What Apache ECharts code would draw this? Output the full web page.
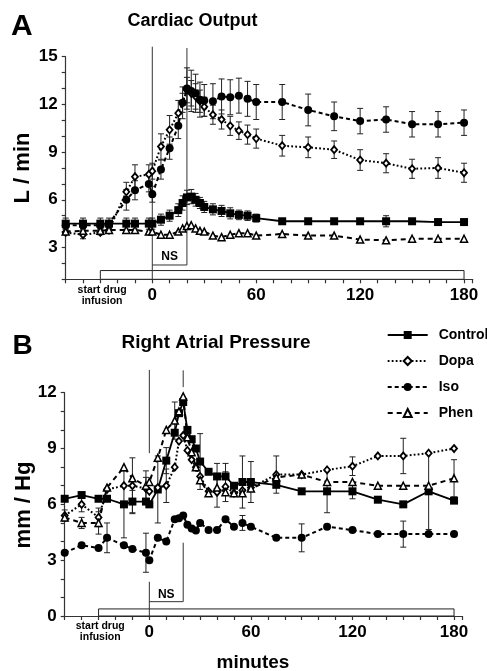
<!DOCTYPE html>
<html><head><meta charset="utf-8">
<script src="https://cdn.jsdelivr.net/npm/echarts@6/dist/echarts.min.js"></script>
<style>html,body{margin:0;padding:0;background:#fff}#c{width:487px;height:671px}</style>
</head><body><div id="c"></div>
<script>
// ---------- data ----------
const times = [-50,-40,-30,-25,-15,-10,-2,0,5,10,15,17.5,20,22.5,25,27.5,30,35,40,45,50,55,60,75,90,105,120,135,150,165,180];
const xTickLabels = [0, 60, 120, 180];
const seriesNames = ['Control', 'Dopa', 'Iso', 'Phen'];

// Panel A: Cardiac Output (L/min)
const coControl   = [4.5,4.5,4.5,4.5,4.5,4.5,4.5,4.5,4.75,5.0,5.35,5.8,6.15,6.2,6.0,5.8,5.55,5.4,5.3,5.15,5.05,5.0,4.85,4.65,4.65,4.65,4.65,4.65,4.65,4.6,4.6];
const coControlSE = [0.35,0.35,0.35,0.35,0.35,0.35,0.35,0.35,0.35,0.35,0.4,0.45,0.45,0.45,0.4,0.35,0.35,0.35,0.35,0.35,0.3,0.3,0.25,0.15,0.15,0.15,0.15,0.35,0.15,0.15,0.15];
const coDopa      = [3.95,3.8,3.95,4.1,6.5,7.45,7.6,7.8,9.35,10.4,11.45,12.1,12.9,12.7,12.5,12.2,11.85,11.35,11.05,10.65,10.35,10.1,9.85,9.4,9.3,9.15,8.5,8.3,7.95,8.0,7.7];
const coDopaSE    = [0.15,0.25,0.15,0.15,0.6,0.75,0.6,0.5,0.8,0.9,0.8,0.6,0.8,0.8,0.8,0.7,0.6,0.6,0.6,0.6,0.55,0.6,0.6,0.65,0.65,0.55,0.65,0.6,0.6,0.65,0.6];
const coIso       = [4.4,4.4,4.4,4.5,6.0,6.6,7.0,6.35,7.9,9.25,10.65,12.1,13.0,12.85,12.7,12.3,12.25,12.2,12.5,12.45,12.55,12.35,12.15,12.15,11.65,11.25,10.95,11.05,10.75,10.75,10.85];
const coIsoSE     = [0.2,0.2,0.2,0.2,0.65,0.6,0.5,0.5,0.6,0.7,0.8,1.0,1.3,1.3,1.2,1.1,1.0,1.1,1.1,1.1,1.1,1.1,1.1,1.1,1.0,0.9,0.8,0.8,0.8,0.8,0.8];
const coPhen      = [4.0,4.05,4.05,4.1,4.1,4.1,4.0,4.0,3.8,3.8,4.0,4.2,4.35,4.4,4.2,4.05,4.0,3.75,3.65,3.8,3.9,3.9,3.75,3.85,3.75,3.75,3.5,3.45,3.55,3.55,3.55];
const coPhenSE    = [0,0,0,0,0,0,0,0,0,0,0,0,0,0,0,0,0,0,0,0,0,0,0,0,0,0,0,0,0,0,0];

// Panel B: Right Atrial Pressure (mm Hg)
const rapControl   = [6.3,6.5,6.3,6.3,6.0,6.15,6.15,6.0,6.8,8.35,9.85,10.9,11.5,10.0,9.5,9.0,8.3,7.75,7.5,7.5,7.0,7.2,7.2,7.05,6.7,6.7,6.7,6.25,6.0,6.7,6.2];
const rapControlSE = [0,0,0,0,1.8,0.6,0,0,1.8,0.7,0,0,0,0,0,0,1.5,0,0.7,0.7,0,1.4,1.1,0,0,1.15,0.4,0,0,2.05,0];
const rapDopa      = [5.4,6.0,5.3,6.8,7.0,7.0,6.85,6.7,6.9,7.0,8.0,9.4,9.7,8.9,8.4,8.0,7.5,6.7,6.65,6.95,6.6,6.75,6.9,7.6,7.6,7.85,8.05,8.6,8.6,8.75,9.0];
const rapDopaSE    = [0.3,0.4,0.5,0,0,1.5,0.6,0,0,0.9,0,0,0,0,0,0,0,0,0.8,0.8,0,0,0,1.0,0,0,0.5,0,0.95,0,0];
const rapIso       = [3.4,3.8,3.65,4.2,3.8,3.6,3.4,3.0,4.2,4.0,5.2,5.25,5.4,4.9,4.7,4.6,5.0,4.62,4.62,5.2,4.8,5.0,4.8,4.2,4.2,4.8,4.62,4.4,4.4,4.4,4.4];
const rapIsoSE     = [0,0,0,0.8,0,0,1.05,0,0,0,0,0,0,0,0,0,0,0,0,0,0,0.4,0,0,0.75,0,0,0,0.7,0,0];
const rapPhen      = [5.3,5.0,5.0,6.9,8.0,7.4,7.0,7.2,8.5,10.0,10.5,11.0,11.8,9.6,8.8,8.0,7.3,6.6,6.9,6.65,6.6,6.6,6.85,7.45,7.6,7.2,7.2,7.0,7.0,7.0,7.4];
const rapPhenSE    = [0,0.3,0.6,0,0,0,0.8,0,0,0,1.0,0,0,0,0,0,0,0,0,0,0,0,0,0,0,0,0,0,0,0,1.0];

// annotation values (data units)
const infusionWindow = [-30, 180];
const nsWindow = [0, 20];
const annA = { yMin: 1, rectTop: 1.55, nsY: 1.9, nsTextY: 2.45,
  vlines: [[0, 1, 15.63], [20, 1.9, 15.55]] };
const annB = { yMin: 0, rectTop: 0.38, nsY: 0.77, nsTextY: 1.17,
  vlines: [[0, 0, 1.84], [0, 8.75, 13.22], [20, 0.77, 3.94], [20, 12.3, 13.2]] };

// ---------- styles ----------
const FONT = '"Liberation Sans", Arial, Helvetica, sans-serif';
const styles = {
  Control: { symbol: 'rect', size: 8, fill: '#000', bw: 0, dash: 'solid', width: 1.8 },
  Dopa:    { symbol: 'diamond', size: [6, 7], fill: '#fff', bw: 1.8, dash: [1.8, 2.2], width: 2 },
  Iso:     { symbol: 'circle', size: 8, fill: '#000', bw: 0, dash: [4, 3], width: 2 },
  Phen:    { symbol: 'triangle', size: 7, fill: '#fff', bw: 1.5, dash: [5, 4], width: 2 }
};

function lineSeries(name, idx, values) {
  const s = styles[name];
  return {
    name, type: 'line', xAxisIndex: idx, yAxisIndex: idx, z: 4,
    data: times.map((t, i) => [t, values[i]]),
    symbol: s.symbol, symbolSize: s.size, showSymbol: true,
    itemStyle: { color: s.fill, borderColor: '#000', borderWidth: s.bw, opacity: 1 },
    lineStyle: { color: '#000', width: s.width, type: s.dash },
    emphasis: { disabled: true }, silent: true
  };
}

function errorSeries(idx, values, se) {
  const data = [];
  times.forEach((t, i) => { if (se[i] > 0) data.push([t, values[i] - se[i], values[i] + se[i]]); });
  return {
    type: 'custom', xAxisIndex: idx, yAxisIndex: idx, z: 3, silent: true,
    encode: { x: 0, y: [1, 2] }, data,
    renderItem(params, api) {
      const x = api.value(0);
      const a = api.coord([x, api.value(1)]);
      const b = api.coord([x, api.value(2)]);
      const hw = 3, st = { stroke: '#222', lineWidth: 1 };
      return { type: 'group', children: [
        { type: 'line', shape: { x1: a[0], y1: a[1], x2: b[0], y2: b[1] }, style: st },
        { type: 'line', shape: { x1: a[0] - hw, y1: a[1], x2: a[0] + hw, y2: a[1] }, style: st },
        { type: 'line', shape: { x1: b[0] - hw, y1: b[1], x2: b[0] + hw, y2: b[1] }, style: st }
      ]};
    }
  };
}

function annotationSeries(idx, ann) {
  return {
    type: 'custom', xAxisIndex: idx, yAxisIndex: idx, z: 1, silent: true, clip: false,
    encode: { x: 0, y: 1 }, data: [[infusionWindow[0], ann.yMin]],
    renderItem(params, api) {
      const c = (x, y) => api.coord([x, y]);
      const ch = [];
      const st = { stroke: '#333', lineWidth: 1 };
      const r0 = c(infusionWindow[0], ann.yMin), r1 = c(infusionWindow[1], ann.rectTop);
      ch.push({ type: 'rect', shape: { x: r0[0], y: r1[1], width: r1[0] - r0[0], height: r0[1] - r1[1] },
        style: { fill: '#fff', stroke: '#222', lineWidth: 1 } });
      ann.vlines.forEach(v => {
        const p = c(v[0], v[1]), q = c(v[0], v[2]);
        ch.push({ type: 'line', shape: { x1: p[0], y1: p[1], x2: q[0], y2: q[1] }, style: st });
      });
      const h0 = c(nsWindow[0], ann.nsY), h1 = c(nsWindow[1], ann.nsY);
      ch.push({ type: 'line', shape: { x1: h0[0], y1: h0[1], x2: h1[0], y2: h1[1] }, style: st });
      const tp = c((nsWindow[0] + nsWindow[1]) / 2, ann.nsTextY);
      ch.push({ type: 'text', x: tp[0], y: tp[1], style: { text: 'NS', fill: '#000',
        font: 'bold 12px ' + FONT, align: 'center', verticalAlign: 'middle' } });
      const sp = c(-29, ann.yMin);
      ch.push({ type: 'text', x: sp[0], y: sp[1] + 5, style: { text: 'start drug\ninfusion', fill: '#000',
        font: 'bold 10.5px ' + FONT, align: 'center', verticalAlign: 'top', lineHeight: 11 } });
      return { type: 'group', children: ch };
    }
  };
}

const axisLineStyle = { color: '#333', width: 1.2 };
function xAxis(idx) {
  return {
    type: 'value', gridIndex: idx, min: -50, max: 185, interval: 10,
    axisLine: { show: true, onZero: false, lineStyle: axisLineStyle },
    axisTick: { show: true, inside: false, length: 4, lineStyle: axisLineStyle },
    splitLine: { show: false },
    axisLabel: { margin: 8, fontSize: 17, fontWeight: 'bold', color: '#000', fontFamily: FONT,
      formatter: v => xTickLabels.includes(v) ? String(v) : '' }
  };
}
function yAxis(idx, min, max) {
  return {
    type: 'value', gridIndex: idx, min, max, interval: 1,
    axisLine: { show: true, onZero: false, lineStyle: axisLineStyle },
    axisTick: { show: true, inside: false, length: 4, lineStyle: axisLineStyle },
    splitLine: { show: false },
    axisLabel: { margin: 8, fontSize: 17, fontWeight: 'bold', color: '#000', fontFamily: FONT,
      formatter: v => (v % 3 === 0 ? String(v) : '') }
  };
}

const chart = echarts.init(document.getElementById('c'), null, { renderer: 'canvas' });
const series = [
  annotationSeries(0, annA), annotationSeries(1, annB),
  errorSeries(0, coControl, coControlSE), errorSeries(0, coDopa, coDopaSE),
  errorSeries(0, coIso, coIsoSE), errorSeries(0, coPhen, coPhenSE),
  errorSeries(1, rapControl, rapControlSE), errorSeries(1, rapDopa, rapDopaSE),
  errorSeries(1, rapIso, rapIsoSE), errorSeries(1, rapPhen, rapPhenSE),
  lineSeries('Control', 0, coControl), lineSeries('Dopa', 0, coDopa),
  lineSeries('Iso', 0, coIso), lineSeries('Phen', 0, coPhen),
  lineSeries('Control', 1, rapControl), lineSeries('Dopa', 1, rapDopa),
  lineSeries('Iso', 1, rapIso), lineSeries('Phen', 1, rapPhen)
];

chart.setOption({
  animation: false,
  backgroundColor: '#fff',
  textStyle: { fontFamily: FONT, color: '#000' },
  grid: [
    { left: 65.7, top: 56.7, width: 407, height: 222.6, containLabel: false, outerBoundsMode: 'none' },
    { left: 64.7, top: 392.7, width: 397.8, height: 223.3, containLabel: false, outerBoundsMode: 'none' }
  ],
  xAxis: [xAxis(0), xAxis(1)],
  yAxis: [yAxis(0, 1, 15), yAxis(1, 0, 12)],
  legend: {
    data: seriesNames, orient: 'vertical', left: 381.7, top: 323,
    itemWidth: 40, itemHeight: 10, itemGap: 12, selectedMode: false,
    textStyle: { fontSize: 14, fontWeight: 'bold', color: '#000', fontFamily: FONT, padding: [0, 0, 0, 6] }
  },
  graphic: [
    { type: 'text', x: 11, y: 26.5, style: { text: 'A', font: 'bold 30px ' + FONT, fill: '#000', align: 'left', verticalAlign: 'middle' } },
    { type: 'text', x: 127.5, y: 21.5, style: { text: 'Cardiac Output', font: 'bold 18px ' + FONT, fill: '#000', align: 'left', verticalAlign: 'middle' } },
    { type: 'text', x: 12.5, y: 346.5, style: { text: 'B', font: 'bold 28px ' + FONT, fill: '#000', align: 'left', verticalAlign: 'middle' } },
    { type: 'text', x: 121.5, y: 343, style: { text: 'Right Atrial Pressure', font: 'bold 19px ' + FONT, fill: '#000', align: 'left', verticalAlign: 'middle' } },
    { type: 'text', x: 23, y: 168, rotation: Math.PI / 2, style: { text: 'L / min', font: 'bold 22px ' + FONT, fill: '#000', align: 'center', verticalAlign: 'middle' } },
    { type: 'text', x: 23.5, y: 505, rotation: Math.PI / 2, style: { text: 'mm / Hg', font: 'bold 22px ' + FONT, fill: '#000', align: 'center', verticalAlign: 'middle' } },
    { type: 'text', x: 253, y: 662.5, style: { text: 'minutes', font: 'bold 19px ' + FONT, fill: '#000', align: 'center', verticalAlign: 'middle' } }
  ],
  series
});
</script>
</body></html>
